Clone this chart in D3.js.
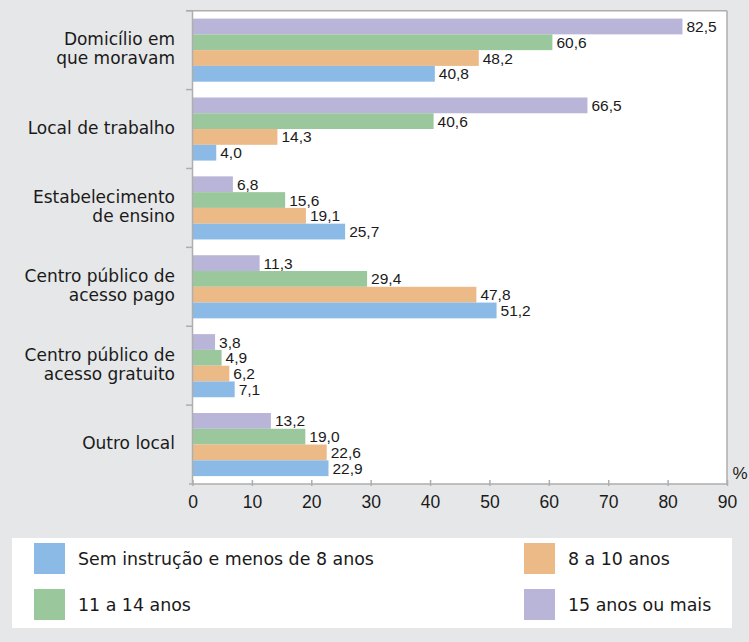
<!DOCTYPE html>
<html>
<head>
<meta charset="utf-8">
<script src="https://cdn.jsdelivr.net/npm/d3@7"></script>
<style>
  html, body { margin: 0; padding: 0; background: #e6e7e8; }
  svg { display: block; }
</style>
</head>
<body>
<svg id="chart" width="749" height="642"></svg>
<script>
// ---- data ----
const categories = [
  "Domicílio em|que moravam",
  "Local de trabalho",
  "Estabelecimento|de ensino",
  "Centro público de|acesso pago",
  "Centro público de|acesso gratuito",
  "Outro local"
];
const seriesNames = [
  "Sem instrução e menos de 8 anos",
  "8 a 10 anos",
  "11 a 14 anos",
  "15 anos ou mais"
];
const semInstrucao = [40.8, 4.0, 25.7, 51.2, 7.1, 22.9];
const anos8a10     = [48.2, 14.3, 19.1, 47.8, 6.2, 22.6];
const anos11a14    = [60.6, 40.6, 15.6, 29.4, 4.9, 19.0];
const anos15mais   = [82.5, 66.5, 6.8, 11.3, 3.8, 13.2];
const xTicks = [0, 10, 20, 30, 40, 50, 60, 70, 80, 90];

const seriesValues = [semInstrucao, anos8a10, anos11a14, anos15mais];
const colors = ["#8bbae6", "#ecba87", "#9ac89c", "#b9b5d9"];
// order of bars inside each group, top to bottom
const barOrder = [3, 2, 1, 0];

(function () {
const svg = d3.select("#chart");
const W = 749, H = 642;
svg.append("rect").attr("width", W).attr("height", H).attr("fill", "#e6e7e8");

const pLeft = 192.5, pRight = 727, pTop = 10.7, pBottom = 484;
const x = d3.scaleLinear().domain([0, 90]).range([pLeft, pRight]);
const y = d3.scaleBand().domain(categories).range([pTop, pBottom])
  .paddingInner(0.2).paddingOuter(0.1);
const ySub = d3.scaleBand().domain(barOrder).range([0, y.bandwidth()]);

const axisColor = "#aeaeae";
const numFont = "'Liberation Sans', Arial, sans-serif";
const txtFont = "'DejaVu Sans', sans-serif";

// plot area
svg.append("rect").attr("x", pLeft).attr("y", pTop)
  .attr("width", x(90) - pLeft).attr("height", pBottom - pTop).attr("fill", "#fff");

// bars
const groups = svg.append("g").selectAll("g").data(categories).join("g")
  .attr("transform", d => `translate(0,${y(d)})`);

groups.each(function (cat, ci) {
  const g = d3.select(this);
  barOrder.forEach(si => {
    const v = seriesValues[si][ci];
    g.append("rect")
      .attr("x", x(0))
      .attr("y", ySub(si))
      .attr("width", x(v) - x(0))
      .attr("height", ySub.bandwidth())
      .attr("fill", colors[si]);
    g.append("text")
      .attr("x", x(v) + 4)
      .attr("y", ySub(si) + ySub.bandwidth() / 2)
      .attr("dy", "0.36em")
      .attr("font-family", numFont)
      .attr("font-size", 15.5)
      .attr("fill", "#1a1a1a")
      .text(d3.format(".1f")(v).replace(".", ","));
  });
});

// frame lines
const frame = svg.append("g").attr("stroke", axisColor).attr("stroke-width", 1.5).attr("fill", "none");
frame.append("line").attr("x1", 186).attr("x2", x(90)).attr("y1", pTop).attr("y2", pTop);
frame.append("line").attr("x1", x(90)).attr("x2", x(90)).attr("y1", pTop).attr("y2", pBottom);

// left axis
frame.append("line").attr("x1", pLeft).attr("x2", pLeft).attr("y1", pTop).attr("y2", pBottom + 1);
const gap = (y.step() - y.bandwidth()) / 2;
categories.forEach(c => {
  frame.append("line").attr("x1", 186).attr("x2", pLeft)
    .attr("y1", y(c) - gap).attr("y2", y(c) - gap);
});

// bottom axis
const xAxis = d3.axisBottom(x).tickValues(xTicks).tickSize(4).tickPadding(8).tickFormat(d3.format("d"));
const gx = svg.append("g").attr("transform", `translate(0,${pBottom})`).call(xAxis);
gx.select(".domain").attr("stroke", axisColor).attr("stroke-width", 1.5)
  .attr("d", `M189,0H${x(90)}`);
gx.selectAll(".tick line").attr("stroke", axisColor).attr("stroke-width", 1.5).attr("y1", -4).attr("y2", 2);
gx.selectAll(".tick text").attr("font-family", numFont).attr("font-size", 17.5).attr("fill", "#1a1a1a");

svg.append("text").attr("x", 740).attr("y", 479).attr("text-anchor", "middle")
  .attr("font-family", numFont).attr("font-size", 17).attr("fill", "#1a1a1a").text("%");

// category labels
categories.forEach(c => {
  const lines = c.split("|");
  const cy = y(c) + y.bandwidth() / 2 - 1.5;
  const lh = 19;
  const t = svg.append("text").attr("text-anchor", "end")
    .attr("font-family", txtFont).attr("font-size", 17).attr("fill", "#1a1a1a");
  lines.forEach((ln, i) => {
    t.append("tspan").attr("x", 175)
      .attr("y", cy + (i - (lines.length - 1) / 2) * lh)
      .attr("dy", "0.36em").text(ln);
  });
});

// legend
svg.append("rect").attr("x", 12).attr("y", 538).attr("width", 720).attr("height", 90).attr("fill", "#fff");
const legendPos = [
  { si: 0, x: 34, y: 543 },
  { si: 1, x: 524, y: 543 },
  { si: 2, x: 34, y: 589 },
  { si: 3, x: 524, y: 589 }
];
legendPos.forEach(p => {
  svg.append("rect").attr("x", p.x).attr("y", p.y).attr("width", 31).attr("height", 31).attr("fill", colors[p.si]);
  svg.append("text").attr("x", p.x + 44).attr("y", p.y + 15.5).attr("dy", "0.36em")
    .attr("font-family", txtFont).attr("font-size", 17.4).attr("fill", "#1a1a1a")
    .text(seriesNames[p.si]);
});
})();
</script>
</body>
</html>
